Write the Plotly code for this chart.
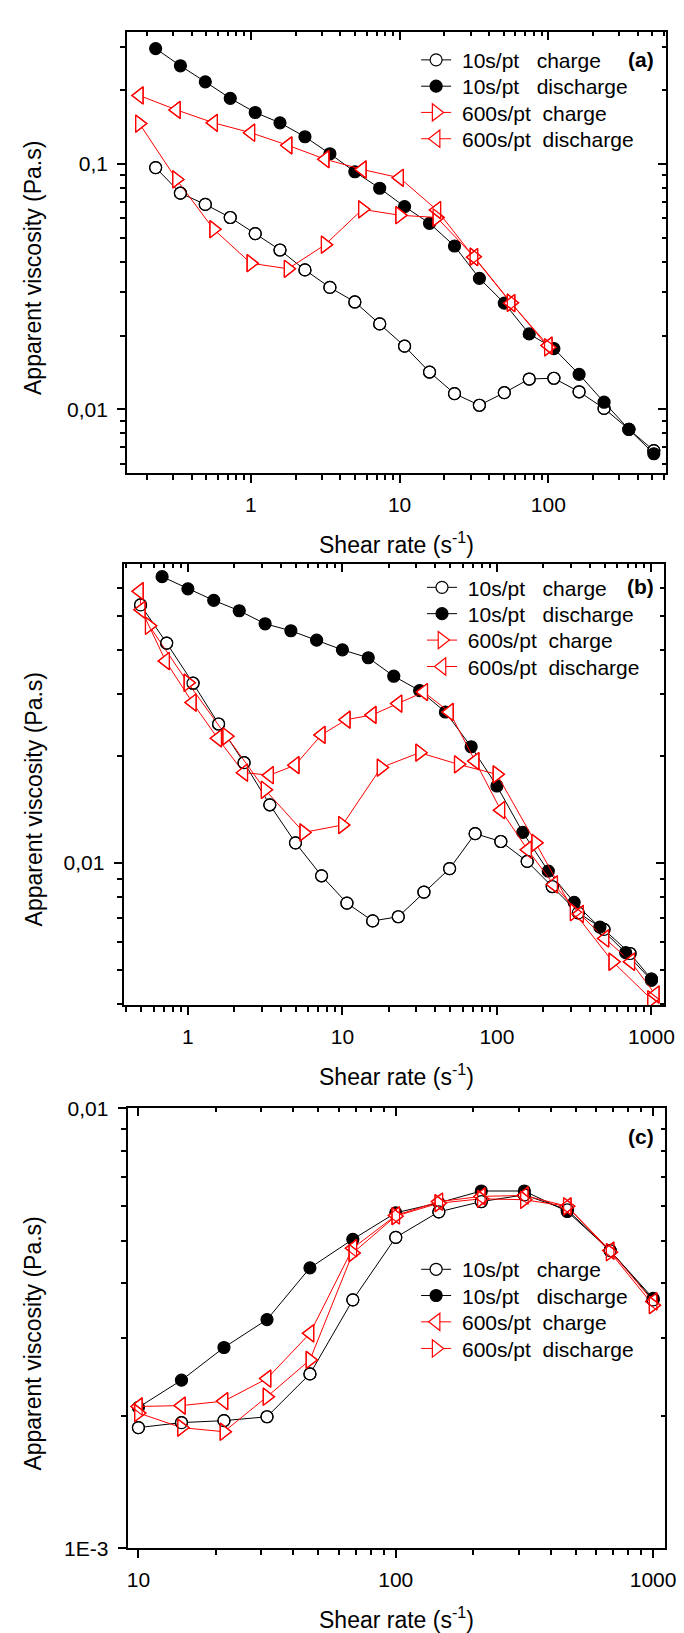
import plotly.graph_objects as go

# ---------------- data ----------------
# Panel (a)
A_x10 = [0.229, 0.336, 0.494, 0.727, 1.07, 1.57, 2.31, 3.40, 5.00, 7.35, 10.8, 15.9, 23.4, 34.4, 50.6, 74.4, 109, 161, 237, 348, 512]
A_10_charge = [0.0966, 0.0760, 0.0684, 0.0605, 0.0520, 0.0446, 0.0370, 0.0314, 0.0274, 0.0223, 0.0181, 0.0142, 0.0116, 0.0104, 0.0117, 0.0133, 0.0134, 0.0118, 0.0101, 0.0083, 0.0068]
A_10_discharge = [0.295, 0.251, 0.216, 0.185, 0.162, 0.147, 0.129, 0.110, 0.0929, 0.0796, 0.0670, 0.0573, 0.0463, 0.0342, 0.0271, 0.0203, 0.0177, 0.0139, 0.0107, 0.0083, 0.0066]
A_x600 = [0.178, 0.316, 0.562, 1.0, 1.78, 3.16, 5.62, 10.0, 17.8, 31.6, 56.2, 100]
A_600_charge = [0.146, 0.0865, 0.0542, 0.0394, 0.0374, 0.0469, 0.0653, 0.0618, 0.0605, 0.0419, 0.0272, 0.0179]
A_600_discharge = [0.190, 0.166, 0.147, 0.134, 0.119, 0.1045, 0.0949, 0.0878, 0.0649, 0.0417, 0.0271, 0.0182]

# Panel (b)
B_x10c = [0.494, 0.729, 1.08, 1.58, 2.31, 3.39, 4.97, 7.33, 10.7, 15.7, 23.0, 33.7, 49.4, 72.3, 106, 157, 228, 336, 493, 727, 1000]
B_10_charge = [0.0536, 0.0418, 0.0322, 0.0247, 0.0192, 0.0146, 0.0114, 0.0092, 0.0077, 0.00686, 0.00705, 0.00827, 0.00964, 0.0121, 0.0115, 0.0101, 0.00858, 0.00723, 0.00649, 0.00555, 0.0047]
B_x10d = [0.681, 1.0, 1.47, 2.15, 3.16, 4.64, 6.81, 10.0, 14.7, 21.5, 31.6, 46.4, 68.1, 100, 147, 215, 316, 464, 681, 1000]
B_10_discharge = [0.0644, 0.0595, 0.0552, 0.0516, 0.0474, 0.0453, 0.0426, 0.0400, 0.0380, 0.0337, 0.0307, 0.0267, 0.0213, 0.0165, 0.0122, 0.00948, 0.00774, 0.00659, 0.00558, 0.00466]
B_x600c = [0.562, 1.0, 1.78, 3.16, 5.62, 10.0, 17.8, 31.6, 56.2, 100, 178, 316, 562, 1000]
B_600_charge = [0.0468, 0.0323, 0.0228, 0.0161, 0.0122, 0.0128, 0.0186, 0.0205, 0.0190, 0.0178, 0.0114, 0.00726, 0.00526, 0.00412]
B_x600d = [0.486, 0.50, 0.718, 1.07, 1.56, 2.30, 3.38, 4.95, 7.3, 10.6, 15.6, 22.9, 33.6, 49.3, 72.3, 106, 158, 233, 343, 500, 735, 1060]
B_600_discharge = [0.0586, 0.0519, 0.0372, 0.0284, 0.0225, 0.0180, 0.0177, 0.0189, 0.0230, 0.0254, 0.0262, 0.0282, 0.0304, 0.0267, 0.0194, 0.0141, 0.0109, 0.0087, 0.00718, 0.00612, 0.00526, 0.00425]

# Panel (c)
C_x = [10, 14.7, 21.5, 31.6, 46.4, 68.1, 100, 147, 215, 316, 464, 681, 1000]
C_10_charge = [0.00188, 0.00193, 0.00195, 0.00199, 0.00249, 0.00367, 0.00509, 0.00582, 0.00614, 0.00636, 0.00588, 0.00475, 0.00367]
C_10_discharge = [0.00209, 0.00241, 0.00286, 0.00331, 0.00434, 0.00504, 0.00579, 0.00610, 0.00649, 0.00649, 0.00583, 0.00475, 0.00370]
C_600_charge = [0.00210, 0.00211, 0.00216, 0.00243, 0.00308, 0.00481, 0.00571, 0.00614, 0.00631, 0.00634, 0.00599, 0.00475, 0.00364]
C_600_discharge = [0.00203, 0.00188, 0.00184, 0.00221, 0.00268, 0.00469, 0.00569, 0.00609, 0.00623, 0.00620, 0.00599, 0.00471, 0.00357]

NB = "\u00a0"
NAMES = [NB + "10s/pt" + NB * 3 + "charge", NB + "10s/pt" + NB * 3 + "discharge",
         NB + "600s/pt" + NB * 2 + "charge", NB + "600s/pt" + NB * 2 + "discharge"]
PANEL_LABELS = ["(a)", "(b)", "(c)"]
X_TITLE = "Shear rate (s<sup>-1</sup>)"
Y_TITLE = "Apparent viscosity (Pa.s)"

# ---------------- styling / layout ----------------
W, H = 684, 1633
FONT = "Arial, 'Liberation Sans', sans-serif"
BLACK = "#000000"
RED = "#ff0000"
TICK_FS = 21
LEG_FS = 21
TITLE_FS = 23


def fx(p):
    return p / W


def fy(p):
    return 1 - p / H


def minor_vals(lo, hi):
    out = []
    for e in range(lo, hi + 1):
        for m in range(2, 10):
            out.append(m * 10.0 ** e)
    return out


panels = [
    dict(left=120.4, right=669.7, top=12, bottom=459, xr=[-0.832, 2.791], yr=[-2.257, -0.462],
         xt=[1, 10, 100], xtt=["1", "10", "100"], yt=[0.1, 0.01], ytt=["0,1", "0,01"],
         mx=minor_vals(-1, 2), my=minor_vals(-3, -1),
         ytitle_y=252, lab_y=40, leg_rows=[40, 66.7, 93.3, 120], leg_left=415,
         series=[(A_x10, A_10_charge, "circle", BLACK, "white"),
                 (A_x10, A_10_discharge, "circle", BLACK, BLACK),
                 (A_x600, A_600_charge, "triangle-right", RED, "white"),
                 (A_x600, A_600_discharge, "triangle-left", RED, "white")]),
    dict(left=116.9, right=667.5, top=552, bottom=999, xr=[-0.4155, 3.08], yr=[-2.401, -1.156],
         xt=[1, 10, 100, 1000], xtt=["1", "10", "100", "1000"], yt=[0.01], ytt=["0,01"],
         mx=minor_vals(-1, 3), my=minor_vals(-3, -2),
         ytitle_y=791, lab_y=575, leg_rows=[575, 601.7, 628.5, 655.3], leg_left=421,
         series=[(B_x10c, B_10_charge, "circle", BLACK, "white"),
                 (B_x10d, B_10_discharge, "circle", BLACK, BLACK),
                 (B_x600c, B_600_charge, "triangle-right", RED, "white"),
                 (B_x600d, B_600_discharge, "triangle-left", RED, "white")]),
    dict(left=120.9, right=668.4, top=1104, bottom=1550, xr=[0.958, 3.045], yr=[-3, -2],
         xt=[10, 100, 1000], xtt=["10", "100", "1000"], yt=[0.01, 0.001], ytt=["0,01", "1E-3"],
         mx=minor_vals(0, 3), my=minor_vals(-3, -3),
         ytitle_y=1343, lab_y=1132, leg_rows=[1266.7, 1293.3, 1320, 1347], leg_left=415,
         series=[(C_x, C_10_charge, "circle", BLACK, "white"),
                 (C_x, C_10_discharge, "circle", BLACK, BLACK),
                 (C_x, C_600_charge, "triangle-left", RED, "white"),
                 (C_x, C_600_discharge, "triangle-right", RED, "white")]),
]

fig = go.Figure()
layout = dict(width=W, height=H, margin=dict(l=0, r=0, t=0, b=0),
              paper_bgcolor="white", plot_bgcolor="white",
              font=dict(family=FONT, size=21, color=BLACK), showlegend=True)
annotations = []

for i, p in enumerate(panels):
    k = i + 1
    ko = i + 4
    xs = "" if k == 1 else str(k)
    xdom = [fx(p["left"]), fx(p["right"])]
    ydom = [fy(p["bottom"]), fy(p["top"])]
    common_x = dict(type="log", range=p["xr"], showgrid=False, zeroline=False,
                    showline=True, linecolor=BLACK, linewidth=2,
                    tickvals=p["xt"], ticktext=p["xtt"], tickcolor=BLACK, tickwidth=2, ticklen=8)
    common_y = dict(type="log", range=p["yr"], showgrid=False, zeroline=False,
                    showline=True, linecolor=BLACK, linewidth=2,
                    tickvals=p["yt"], ticktext=p["ytt"], tickcolor=BLACK, tickwidth=2, ticklen=8)
    layout["xaxis" + xs] = dict(common_x, domain=xdom, anchor="y" + xs, ticks="outside",
                                tickfont=dict(size=TICK_FS, family=FONT), ticklabelstandoff=4,
                                minor=dict(tickvals=p["mx"], ticks="outside", ticklen=5, tickwidth=2,
                                           tickcolor=BLACK, showgrid=False))
    layout["yaxis" + xs] = dict(common_y, domain=ydom, anchor="x" + xs, ticks="outside",
                                tickfont=dict(size=TICK_FS, family=FONT), ticklabelstandoff=5,
                                minor=dict(tickvals=p["my"], ticks="outside", ticklen=5, tickwidth=2,
                                           tickcolor=BLACK, showgrid=False))
    layout["xaxis%d" % ko] = dict(common_x, overlaying="x" + xs, anchor="y" + xs, side="top",
                                  ticks="inside", showticklabels=False,
                                  minor=dict(tickvals=p["mx"], ticks="inside", ticklen=4, tickwidth=2,
                                             tickcolor=BLACK, showgrid=False))
    layout["yaxis%d" % ko] = dict(common_y, overlaying="y" + xs, anchor="x" + xs, side="right",
                                  ticks="inside", showticklabels=False,
                                  minor=dict(tickvals=p["my"], ticks="inside", ticklen=4, tickwidth=2,
                                             tickcolor=BLACK, showgrid=False))
    fig.add_trace(go.Scatter(x=[], y=[], xaxis="x%d" % ko, yaxis="y%d" % ko,
                             showlegend=False, hoverinfo="skip"))

    # series: line + white-filled markers (legend entry: one legend per row)
    for j, ((xv, yv, sym, col, fill), name) in enumerate(zip(p["series"], NAMES)):
        n = 4 * i + j + 1
        leg = "legend" if n == 1 else "legend%d" % n
        msize = 12 if sym == "circle" else 15
        fig.add_trace(go.Scatter(
            x=xv, y=yv, mode="lines+markers", name=name, legend=leg,
            xaxis="x" + xs, yaxis="y" + xs,
            line=dict(color=col, width=1),
            marker=dict(symbol=sym, size=msize, color=fill, line=dict(color=col, width=1.2))))
        layout[leg] = dict(x=fx(p["leg_left"]), y=fy(p["leg_rows"][j] - 20), xanchor="left", yanchor="top",
                           bgcolor="rgba(0,0,0,0)", borderwidth=0,
                           font=dict(size=LEG_FS, family=FONT, color=BLACK), itemclick=False)
    # outline layer so overlapping markers keep their edges
    for (xv, yv, sym, col, fill) in p["series"]:
        msize = 12 if sym == "circle" else 15
        if fill == "white":
            fig.add_trace(go.Scatter(
                x=xv, y=yv, mode="markers", showlegend=False, hoverinfo="skip",
                xaxis="x" + xs, yaxis="y" + xs,
                marker=dict(symbol=sym + "-open", size=msize, color=col, line=dict(color=col, width=1.2))))

    annotations.append(dict(text="<b>%s</b>" % PANEL_LABELS[i], x=fx(644), y=fy(p["lab_y"]),
                            xref="paper", yref="paper", showarrow=False, xanchor="center", yanchor="middle",
                            font=dict(size=21, family=FONT, color=BLACK)))
    annotations.append(dict(text=X_TITLE, x=fx(395), y=fy(p["bottom"] + 71),
                            xref="paper", yref="paper", showarrow=False, xanchor="center", yanchor="middle",
                            font=dict(size=TITLE_FS, family=FONT, color=BLACK)))
    annotations.append(dict(text=Y_TITLE, x=fx(25), y=fy(p["ytitle_y"]), textangle=-90,
                            xref="paper", yref="paper", showarrow=False, xanchor="center", yanchor="middle",
                            font=dict(size=TITLE_FS, family=FONT, color=BLACK)))

layout["annotations"] = annotations
fig.update_layout(**layout)
fig.write_html("out.html")
